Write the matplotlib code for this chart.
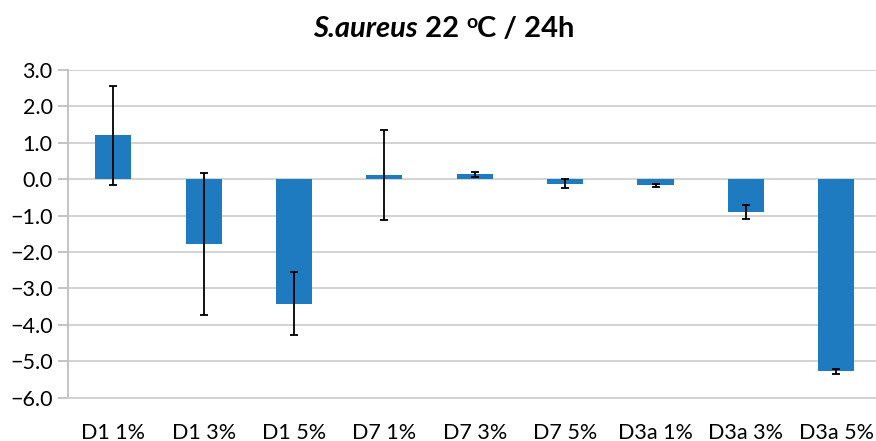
import matplotlib
matplotlib.use("Agg")
import matplotlib.pyplot as plt
import numpy as np
from matplotlib.ticker import FuncFormatter

categories = ["D1 1%", "D1 3%", "D1 5%", "D7 1%", "D7 3%", "D7 5%", "D3a 1%", "D3a 3%", "D3a 5%"]
values = [1.21, -1.78, -3.42, 0.12, 0.14, -0.12, -0.17, -0.91, -5.28]
errors = [1.36, 1.96, 0.86, 1.23, 0.07, 0.13, 0.05, 0.19, 0.08]
yticks = [-6, -5, -4, -3, -2, -1, 0, 1, 2, 3]

FONT = "Lato"
plt.rcParams['font.family'] = [FONT, 'DejaVu Sans']

W, H = 876, 441
fig = plt.figure(figsize=(W / 100, H / 100), dpi=100)
ax = fig.add_axes([68 / W, 1 - 397.7 / H, (881.5 - 68) / W, (397.7 - 70) / H])

x = np.arange(len(categories))
ax.bar(x, values, width=0.4, color="#1F7BBF", zorder=2,
       yerr=errors, error_kw=dict(ecolor="black", elinewidth=1.3, capsize=3.2, capthick=1.3, zorder=3))

ax.set_xlim(-0.5, len(categories) - 0.5)
ax.set_ylim(-6, 3)
ax.set_yticks(yticks)
ax.yaxis.set_major_formatter(FuncFormatter(lambda v, p: f"{v:.1f}".replace("-", "\u2212")))
ax.set_xticks(x)
ax.set_xticklabels(categories)

ax.yaxis.grid(True, color="#d0d0d0", lw=1.3, zorder=0)
ax.set_axisbelow(True)
for s in ["top", "right"]:
    ax.spines[s].set_visible(False)
ax.spines["left"].set_color("#bfbfbf")
ax.spines["left"].set_linewidth(1.3)
ax.spines["bottom"].set_color("#d0d0d0")
ax.spines["bottom"].set_linewidth(1.3)
ax.tick_params(axis="y", length=7, width=1.3, color="#bfbfbf", labelsize=15.5, pad=4, labelcolor="black")
ax.tick_params(axis="x", length=0, labelsize=15.5, pad=18, labelcolor="black")

# Title built from pieces
fig.canvas.draw()
renderer = fig.canvas.get_renderer()
pieces = [
    ("S.aureus", dict(fontsize=21, fontweight="bold", fontstyle="italic"), 0),
    (" 22 ", dict(fontsize=21, fontweight="bold"), 0),
    ("o", dict(fontsize=14, fontweight="bold"), 9),
    ("C / 24h", dict(fontsize=21, fontweight="bold"), 0),
]
base_y = H - 37  # baseline in pixels from bottom
texts = []
for s, kw, dy in pieces:
    t = fig.text(0, 0, s, ha="left", va="baseline", transform=None, **kw)
    texts.append((t, dy))
widths = []
for t, dy in texts:
    bb = t.get_window_extent(renderer)
    widths.append(bb.width)
total = sum(widths)
xpos = 444 - total / 2
for (t, dy), w in zip(texts, widths):
    t.set_position((xpos, base_y + dy))
    xpos += w

fig.savefig("out.png", dpi=100)
